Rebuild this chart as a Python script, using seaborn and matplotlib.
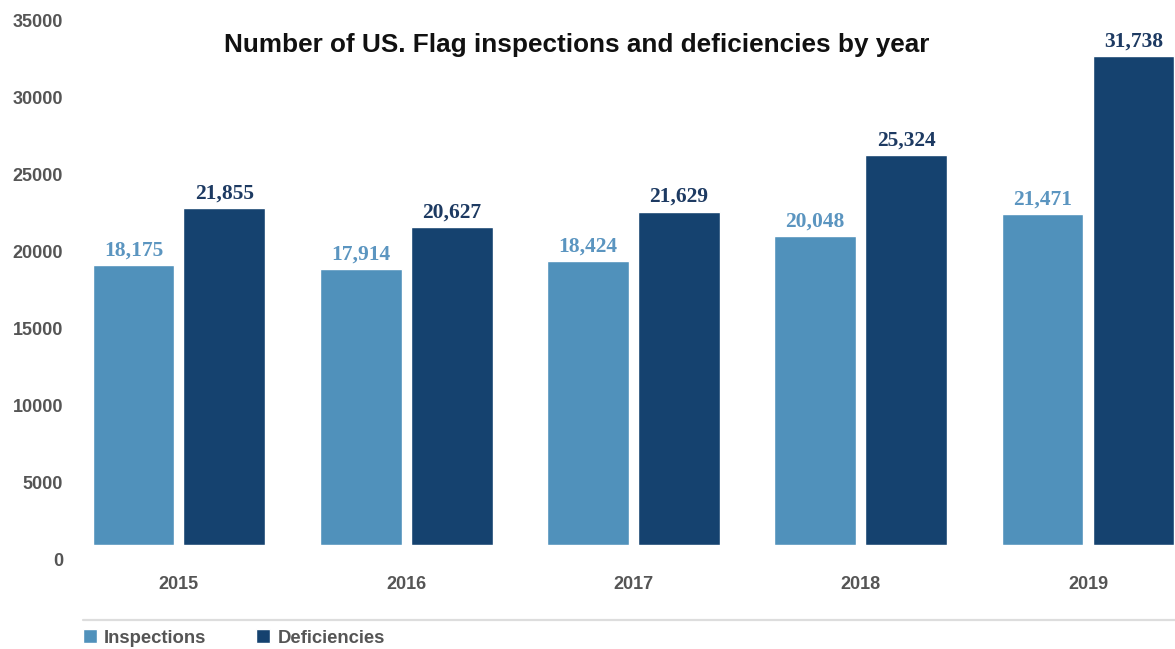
import matplotlib
matplotlib.use("Agg")
import matplotlib.pyplot as plt
from matplotlib.transforms import ScaledTranslation
from matplotlib.lines import Line2D
import seaborn as sns
import pandas as pd

years = ["2015", "2016", "2017", "2018", "2019"]
inspections = [18175, 17914, 18424, 20048, 21471]
deficiencies = [21855, 20627, 21629, 25324, 31738]
series_names = ["Inspections", "Deficiencies"]
y_ticks = [0, 5000, 10000, 15000, 20000, 25000, 30000, 35000]

bar_colors = ["#5091bb", "#15426f"]
label_colors = ["#5b95c0", "#1d3a62"]

df = pd.DataFrame({
    "year": years * 2,
    "count": inspections + deficiencies,
    "series": [series_names[0]] * len(years) + [series_names[1]] * len(years),
})

sns.set_style("white")
plt.rcParams["font.family"] = ["Liberation Sans", "DejaVu Sans"]

W, H, DPI = 1175, 649, 100
fig = plt.figure(figsize=(W / DPI, H / DPI), dpi=DPI)
ax = fig.add_axes([88 / W, 1 - 545 / H, 1 - 88 / W, 545 / H])

sns.barplot(data=df, x="year", y="count", hue="series", order=years,
            hue_order=series_names, palette=bar_colors, width=0.8, gap=0.1,
            saturation=1, ax=ax)

ax.set_xlim(-0.400, 4.383)
ax.set_ylim(0, 35390)
ax.set_xlabel("")
ax.set_ylabel("")
sns.despine(ax=ax, left=True, bottom=True)

ax.set_yticks(y_ticks)
ax.set_yticklabels([str(v) for v in y_ticks])
ax.tick_params(axis="y", length=0, pad=18, labelsize=13, labelcolor="#555555")
ax.tick_params(axis="x", length=0, pad=22, labelsize=13, labelcolor="#555555")
for lab in ax.get_yticklabels() + ax.get_xticklabels():
    lab.set_fontweight("bold")
shift = ScaledTranslation(0, -14 / DPI, fig.dpi_scale_trans)
for lab in ax.get_yticklabels():
    lab.set_transform(lab.get_transform() + shift)

for cont, vals, col in zip(ax.containers, [inspections, deficiencies], label_colors):
    ax.bar_label(cont, labels=[f"{v:,}" for v in vals], padding=3.5, color=col,
                 fontsize=15.5, fontweight="bold",
                 fontfamily=["Liberation Serif", "DejaVu Serif"])

fig.text(577 / W, 1 - 45 / H, "Number of US. Flag inspections and deficiencies by year",
         ha="center", va="center", fontsize=18.8, fontweight="bold", color="#111111")

sns.move_legend(ax, loc="center left", bbox_to_anchor=(83 / W, 1 - 638 / H),
                bbox_transform=fig.transFigure, ncol=2, frameon=False, title=None,
                handlelength=0.75, handleheight=0.75, handletextpad=0.4,
                columnspacing=2.7, fontsize=13.3, borderaxespad=0, borderpad=0)
for t in ax.get_legend().get_texts():
    t.set_fontweight("bold")
    t.set_color("#555555")

fig.add_artist(Line2D([83 / W, 1], [1 - 620 / H] * 2, color="#dddddd", lw=1.6,
                      transform=fig.transFigure))

fig.savefig("out.png", dpi=DPI)
